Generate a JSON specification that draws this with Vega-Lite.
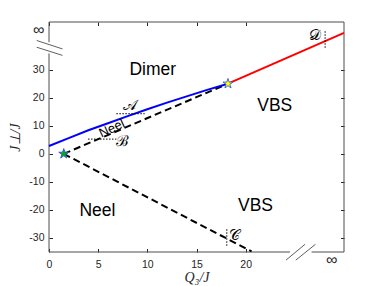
{
  "$schema": "https://vega.github.io/schema/vega-lite/v6.json",
  "width": 295,
  "height": 230,
  "autosize": "none",
  "padding": {"left": 49, "top": 22, "right": 37, "bottom": 34},
  "config": {
    "view": {"stroke": null},
    "axis": {
      "grid": false,
      "domain": false,
      "labelFont": "Liberation Sans",
      "labelColor": "#262626",
      "tickColor": "#262626",
      "titleFont": "Liberation Serif",
      "titleFontStyle": "italic",
      "titleFontWeight": "normal",
      "titleColor": "#262626",
      "titleFontSize": 14,
      "labelFlush": false,
      "labelOverlap": false
    }
  },
  "datasets": {
    "frame": [
      {"x": 0, "y": 47, "x2": 30, "y2": 47},
      {"x": 30, "y": -35, "x2": 30, "y2": 47},
      {"x": 0, "y": -35, "x2": 0, "y2": 35.8},
      {"x": 0, "y": 39.8, "x2": 0, "y2": 47},
      {"x": 0, "y": -35, "x2": 24.5, "y2": -35},
      {"x": 26.7, "y": -35, "x2": 30, "y2": -35}
    ],
    "breaks": [
      {"x": -1.25, "y": 40.4, "x2": 1.37, "y2": 37.4},
      {"x": -1.25, "y": 38.0, "x2": 1.37, "y2": 35.1},
      {"x": 24.1, "y": -37.9, "x2": 26.04, "y2": -32.25},
      {"x": 25.1, "y": -37.9, "x2": 27.1, "y2": -32.25}
    ],
    "curves": [
      {"series": "blue", "ord": 0, "x": 0, "y": 2.8},
      {"series": "blue", "ord": 1, "x": 2, "y": 5.6},
      {"series": "blue", "ord": 2, "x": 4, "y": 8.4},
      {"series": "blue", "ord": 3, "x": 6, "y": 10.9},
      {"series": "blue", "ord": 4, "x": 8, "y": 13.45},
      {"series": "blue", "ord": 5, "x": 10, "y": 15.9},
      {"series": "blue", "ord": 6, "x": 12, "y": 18.25},
      {"series": "blue", "ord": 7, "x": 14, "y": 20.5},
      {"series": "blue", "ord": 8, "x": 16, "y": 22.7},
      {"series": "blue", "ord": 9, "x": 18.2, "y": 25},
      {"series": "red", "ord": 0, "x": 18.2, "y": 25},
      {"series": "red", "ord": 1, "x": 30, "y": 43.1},
      {"series": "dash1", "ord": 0, "x": 1.5, "y": 0},
      {"series": "dash1", "ord": 1, "x": 18.2, "y": 25},
      {"series": "dash2", "ord": 0, "x": 1.5, "y": 0},
      {"series": "dash2", "ord": 1, "x": 20.6, "y": -34.8}
    ],
    "markers": [
      {"name": "A", "x": 6.85, "x2": 9.73, "y": 14.3, "y2": 14.3},
      {"name": "B", "x": 3.97, "x2": 6.85, "y": 5.25, "y2": 5.25},
      {"name": "C", "x": 18.08, "x2": 18.08, "y": -26.9, "y2": -32.9},
      {"name": "D", "x": 28.08, "x2": 28.08, "y": 43.7, "y2": 37.4}
    ],
    "stars": [
      {"kind": "start", "x": 1.5, "y": 0},
      {"kind": "end", "x": 18.2, "y": 25}
    ],
    "labels": [
      {"kind": "region", "t": "Dimer", "x": 10.55, "y": 29.9},
      {"kind": "region", "t": "VBS", "x": 22.96, "y": 16.9},
      {"kind": "region", "t": "VBS", "x": 21.0, "y": -18.5},
      {"kind": "region", "t": "Neel", "x": 4.93, "y": -20.4},
      {"kind": "letter", "t": "𝒜", "x": 8.2, "y": 17.3},
      {"kind": "letter", "t": "ℬ", "x": 7.45, "y": 4.5},
      {"kind": "letter", "t": "𝒞", "x": 18.85, "y": -28.9},
      {"kind": "letter", "t": "𝒟", "x": 27.1, "y": 42.5},
      {"kind": "small", "t": "Neel", "x": 6.4, "y": 9.0}
    ]
  },
  "layer": [
    {
      "data": {"name": "frame"},
      "mark": {"type": "rule", "color": "#4d4d4d", "strokeWidth": 1, "clip": false},
      "encoding": {
        "x": {
          "field": "x", "type": "quantitative",
          "scale": {"domain": [0, 30], "nice": false, "zero": false},
          "axis": {
            "orient": "bottom",
            "title": "Q₃/J",
            "values": [0, 5, 10, 15, 20, 28.7],
            "labelExpr": "datum.value > 25 ? '∞' : '' + datum.value",
            "labelFontSize": {"condition": {"test": "datum.value > 25", "value": 16}, "value": 10.5},
            "labelBaseline": {"condition": {"test": "datum.value > 25", "value": "middle"}, "value": "top"},
            "tickOpacity": {"condition": {"test": "datum.value > 25", "value": 0}, "value": 1},
            "tickSize": -3.5,
            "labelPadding": 10.7,
            "titlePadding": 1
          }
        },
        "x2": {"field": "x2"},
        "y": {
          "field": "y", "type": "quantitative",
          "scale": {"domain": [-35, 47], "nice": false, "zero": false},
          "axis": {
            "orient": "left",
            "title": "J⊥/J",
            "values": [-30, -20, -10, 0, 10, 20, 30, 44.3],
            "labelExpr": "datum.value > 40 ? '∞' : '' + datum.value",
            "labelFontSize": {"condition": {"test": "datum.value > 40", "value": 16}, "value": 10.5},
            "tickOpacity": {"condition": {"test": "datum.value > 40", "value": 0}, "value": 1},
            "tickSize": -3.5,
            "labelPadding": 8.5,
            "titlePadding": 6
          }
        },
        "y2": {"field": "y2"}
      }
    },
    {
      "mark": {"type": "rule", "color": "#666666", "strokeWidth": 1},
      "encoding": {"y": {"datum": 0, "type": "quantitative", "axis": null}}
    },
    {
      "data": {"name": "curves"},
      "transform": [{"filter": "indexof(datum.series, 'dash') == 0"}],
      "mark": {"type": "line", "color": "black", "strokeWidth": 2, "strokeDash": [7, 4]},
      "encoding": {
        "x": {"field": "x", "type": "quantitative", "axis": null},
        "y": {"field": "y", "type": "quantitative", "axis": null},
        "detail": {"field": "series"},
        "order": {"field": "ord"}
      }
    },
    {
      "data": {"name": "curves"},
      "transform": [{"filter": "datum.series == 'blue'"}],
      "mark": {"type": "line", "color": "#0000ff", "strokeWidth": 2},
      "encoding": {
        "x": {"field": "x", "type": "quantitative", "axis": null},
        "y": {"field": "y", "type": "quantitative", "axis": null},
        "order": {"field": "ord"}
      }
    },
    {
      "data": {"name": "curves"},
      "transform": [{"filter": "datum.series == 'red'"}],
      "mark": {"type": "line", "color": "#ff0000", "strokeWidth": 2},
      "encoding": {
        "x": {"field": "x", "type": "quantitative", "axis": null},
        "y": {"field": "y", "type": "quantitative", "axis": null},
        "order": {"field": "ord"}
      }
    },
    {
      "data": {"name": "markers"},
      "mark": {"type": "rule", "color": "black", "strokeWidth": 1, "strokeDash": [1.5, 1.5]},
      "encoding": {
        "x": {"field": "x", "type": "quantitative", "axis": null},
        "x2": {"field": "x2"},
        "y": {"field": "y", "type": "quantitative", "axis": null},
        "y2": {"field": "y2"}
      }
    },
    {
      "data": {"name": "breaks"},
      "mark": {"type": "rule", "color": "#4d4d4d", "strokeWidth": 0.9, "clip": false},
      "encoding": {
        "x": {"field": "x", "type": "quantitative", "axis": null},
        "x2": {"field": "x2"},
        "y": {"field": "y", "type": "quantitative", "axis": null},
        "y2": {"field": "y2"}
      }
    },
    {
      "data": {"name": "labels"},
      "transform": [{"filter": "datum.kind == 'region'"}],
      "mark": {"type": "text", "font": "Liberation Sans", "fontSize": 17.5, "color": "black", "baseline": "middle", "align": "center"},
      "encoding": {
        "x": {"field": "x", "type": "quantitative", "axis": null},
        "y": {"field": "y", "type": "quantitative", "axis": null},
        "text": {"field": "t"}
      }
    },
    {
      "data": {"name": "labels"},
      "transform": [{"filter": "datum.kind == 'letter'"}],
      "mark": {"type": "text", "font": "DejaVu Serif", "fontSize": 15, "color": "black", "baseline": "middle", "align": "center"},
      "encoding": {
        "x": {"field": "x", "type": "quantitative", "axis": null},
        "y": {"field": "y", "type": "quantitative", "axis": null},
        "text": {"field": "t"}
      }
    },
    {
      "data": {"name": "labels"},
      "transform": [{"filter": "datum.kind == 'small'"}],
      "mark": {"type": "text", "font": "Liberation Sans", "fontSize": 13, "color": "black", "baseline": "middle", "align": "center", "angle": -25},
      "encoding": {
        "x": {"field": "x", "type": "quantitative", "axis": null},
        "y": {"field": "y", "type": "quantitative", "axis": null},
        "text": {"field": "t"}
      }
    },
    {
      "data": {"name": "stars"},
      "mark": {
        "type": "point",
        "shape": "M0,-1L0.2245,-0.309L0.951,-0.309L0.363,0.118L0.588,0.809L0,0.382L-0.588,0.809L-0.363,0.118L-0.951,-0.309L-0.2245,-0.309Z",
        "size": 110,
        "filled": true,
        "stroke": "#3355dd",
        "strokeWidth": 0.9,
        "opacity": 1
      },
      "encoding": {
        "x": {
          "field": "x", "type": "quantitative",
          "axis": {"orient": "top", "title": null, "labels": false, "values": [0, 5, 10, 15, 20], "tickSize": -3.5}
        },
        "y": {
          "field": "y", "type": "quantitative",
          "axis": {"orient": "right", "title": null, "labels": false, "values": [-30, -20, -10, 0, 10, 20, 30], "tickSize": -3.5}
        },
        "fill": {
          "field": "kind", "type": "nominal",
          "scale": {"domain": ["start", "end"], "range": ["#00b000", "#ffff00"]},
          "legend": null
        }
      }
    }
  ],
  "resolve": {"axis": {"x": "independent", "y": "independent"}}
}
